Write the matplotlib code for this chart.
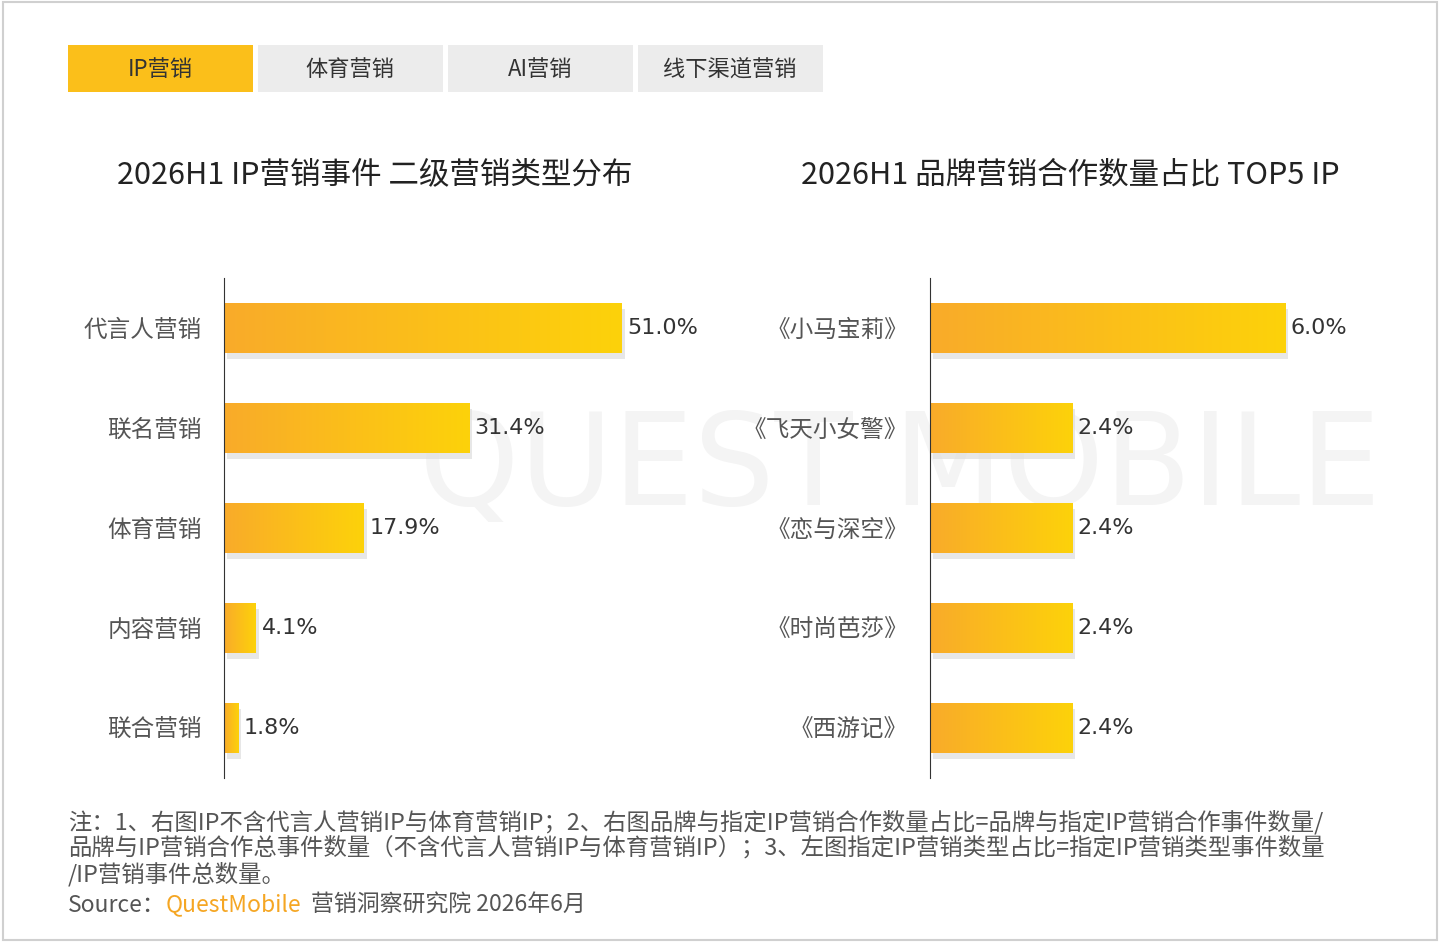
import numpy as np
import matplotlib
matplotlib.use("Agg")
import matplotlib.pyplot as plt
from matplotlib.colors import LinearSegmentedColormap
from matplotlib.patches import Rectangle

plt.rcParams["font.family"] = ["Noto Sans CJK SC", "DejaVu Sans"]

tabs = ["IP营销", "体育营销", "AI营销", "线下渠道营销"]
left_title = "2026H1 IP营销事件 二级营销类型分布"
left_cats = ["代言人营销", "联名营销", "体育营销", "内容营销", "联合营销"]
left_vals = [51.0, 31.4, 17.9, 4.1, 1.8]
right_title = "2026H1 品牌营销合作数量占比 TOP5 IP"
right_cats = ["《小马宝莉》", "《飞天小女警》", "《恋与深空》", "《时尚芭莎》", "《西游记》"]
right_vals = [6.0, 2.4, 2.4, 2.4, 2.4]
notes = ("注：1、右图IP不含代言人营销IP与体育营销IP；2、右图品牌与指定IP营销合作数量占比=品牌与指定IP营销合作事件数量/\n"
         "品牌与IP营销合作总事件数量（不含代言人营销IP与体育营销IP）；3、左图指定IP营销类型占比=指定IP营销类型事件数量\n"
         "/IP营销事件总数量。")

W, H = 1440, 942
fig = plt.figure(figsize=(W / 100, H / 100), dpi=100)
fig.patch.set_facecolor("white")
fig.add_artist(Rectangle((0.002, 0.002), 0.996, 0.996, transform=fig.transFigure,
                         fill=False, ec="#d0d0d0", lw=1.5))

def px(x, y):
    return x / W, 1 - y / H

# watermark, behind the axes
fig.text(*px(900, 470), "QUEST MOBILE", fontsize=92, color="#f4f4f4",
         ha="center", va="center", family="DejaVu Sans", zorder=-5)

# tabs
for i, t in enumerate(tabs):
    x0 = 68 + i * 190
    col = "#fbbf1a" if i == 0 else "#ececec"
    fig.add_artist(Rectangle(px(x0, 92), 185 / W, 47 / H, transform=fig.transFigure,
                             fc=col, ec="none"))
    fig.text(*px(x0 + 92, 69), t, fontsize=16, fontweight="medium", color="#333333",
             ha="center", va="center")

fig.text(*px(375, 175), left_title, fontsize=22, color="#222222", ha="center", va="center")
fig.text(*px(1070, 175), right_title, fontsize=22, color="#222222", ha="center", va="center")

cmap = LinearSegmentedColormap.from_list("g", ["#f9ab2a", "#fdd20a"])
grad = np.linspace(0, 1, 256).reshape(1, -1)

def draw(rect, cats, vals, xmax, fmt):
    ax = fig.add_axes(rect)
    y = np.arange(len(cats))
    for yi, v in zip(y, vals):
        ax.add_patch(Rectangle((xmax * 0.006, yi - 0.25 + 0.06), v, 0.5, fc="#dedede",
                               ec="none", alpha=0.7, zorder=1))
        ax.imshow(grad, cmap=cmap, aspect="auto", extent=(0, v, yi + 0.25, yi - 0.25), zorder=2)
        ax.text(v + xmax * 0.012, yi, fmt.format(v), va="center", ha="left",
                fontsize=16, color="#333333", family="DejaVu Sans")
    ax.set_xlim(0, xmax)
    ax.set_ylim(len(cats) - 0.5, -0.5)
    ax.set_yticks(y)
    ax.set_yticklabels(cats, fontsize=17, color="#555555")
    ax.tick_params(axis="y", length=0, pad=16)
    ax.set_xticks([])
    for s in ["top", "right", "bottom"]:
        ax.spines[s].set_visible(False)
    ax.spines["left"].set_color("#333333")
    ax.patch.set_alpha(0)
    return ax

y0 = 1 - 778 / H
h = 500 / H
draw([224 / W, y0, (700 - 224) / W, h], left_cats, left_vals, 61.0, "{:.1f}%")
draw([930 / W, y0, (1390 - 930) / W, h], right_cats, right_vals, 7.77, "{:.1f}%")

fig.text(*px(68, 848), notes, fontsize=16.8, color="#555555", ha="left", va="center",
         linespacing=1.1)
fig.text(*px(68, 905), "Source：", fontsize=16.5, color="#555555", ha="left", va="center")
fig.text(*px(166, 905), "QuestMobile", fontsize=16.5, color="#f5a623", ha="left", va="center")
fig.text(*px(311, 905), "营销洞察研究院 2026年6月", fontsize=16.5, color="#555555",
         ha="left", va="center")

fig.savefig("out.png", dpi=100)
